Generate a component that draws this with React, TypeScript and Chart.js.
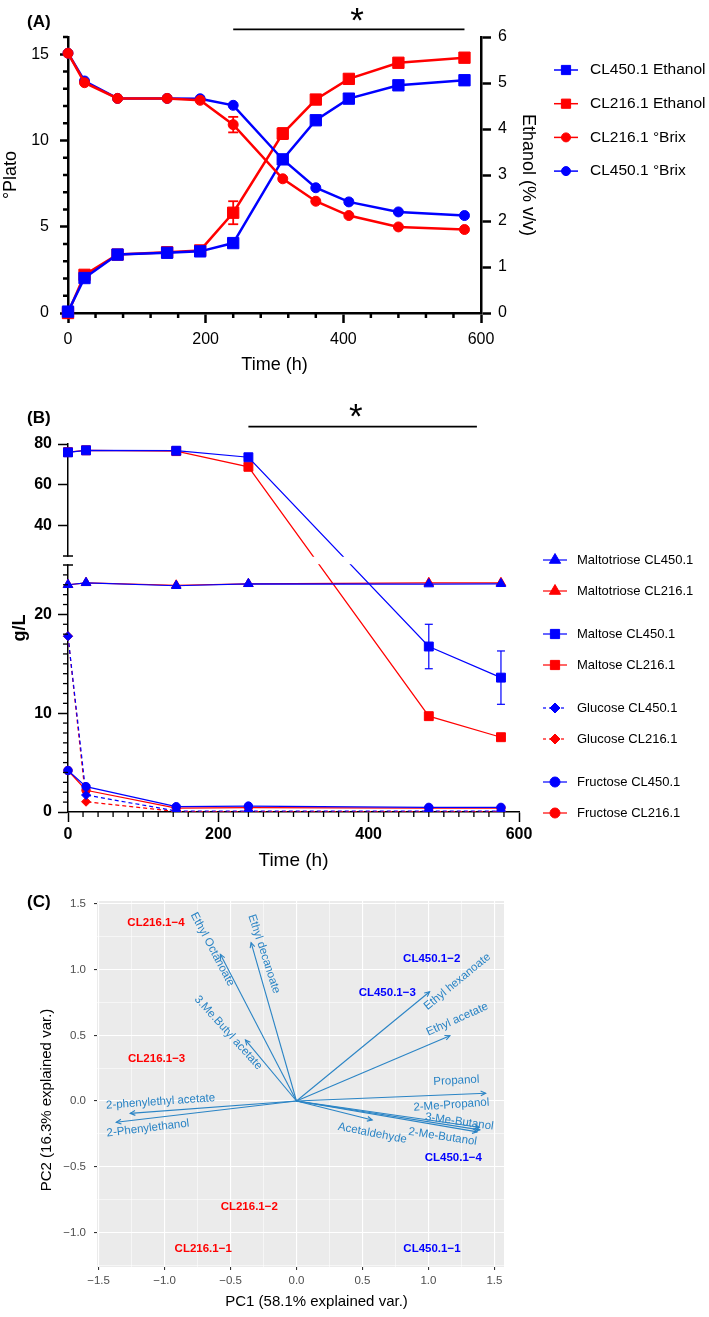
import React, { useEffect, useRef } from "react";
import { Chart, registerables, LinearScale } from "chart.js";

Chart.register(...registerables);

const FONT = "'Liberation Sans', Arial, Helvetica, sans-serif";
Chart.defaults.font.family = FONT;
Chart.defaults.color = "#000";

const BLUE = "#0000ff";
const RED = "#ff0000";
const ARROW = "#2a84c5";

/* ---------------- Panel A data ---------------- */
const timeA = [0, 24, 72, 144, 192, 240, 312, 360, 408, 480, 576];
const ethanolCL450 = [0.03, 0.76, 1.27, 1.31, 1.34, 1.52, 3.34, 4.19, 4.66, 4.95, 5.06];
const ethanolCL216 = [0.0, 0.83, 1.27, 1.32, 1.36, 2.18, 3.9, 4.64, 5.09, 5.44, 5.55];
const brixCL216 = [15.06, 13.35, 12.44, 12.44, 12.33, 10.92, 7.78, 6.48, 5.65, 4.99, 4.84];
const brixCL450 = [15.06, 13.45, 12.44, 12.44, 12.42, 12.04, 8.9, 7.26, 6.44, 5.86, 5.65];
const errEthanolCL450 = [0, 0, 0, 0, 0, 0, 0, 0, 0, 0, 0.1];
const errEthanolCL216 = [0, 0, 0, 0, 0, 0.25, 0.12, 0, 0, 0, 0];
const errBrixCL216 = [0, 0, 0, 0, 0, 0.45, 0, 0, 0, 0, 0];
const errBrixCL450 = [0, 0, 0, 0, 0, 0, 0, 0, 0, 0, 0];
const timeTicksA = [0, 200, 400, 600];
const platoTicksA = [0, 5, 10, 15];
const ethanolTicksA = [0, 1, 2, 3, 4, 5, 6];
const sigSpanA = [240, 576];
const sigStarA = 420;

/* ---------------- Panel B data ---------------- */
const timeB = [0, 24, 144, 240, 480, 576];
const maltotrioseCL450 = [23.0, 23.2, 22.9, 23.1, 23.07, 23.1];
const maltotrioseCL216 = [23.0, 23.2, 22.95, 23.1, 23.2, 23.2];
const maltoseCL450 = [75.9, 76.9, 76.7, 73.5, 16.75, 13.6];
const maltoseCL216 = [76.0, 76.9, 76.5, 68.8, 9.7, 7.57];
const glucoseCL450 = [17.8, 1.72, 0.1, 0.1, 0.1, 0.1];
const glucoseCL216 = [17.8, 1.04, 0.05, 0.05, 0.05, 0.05];
const fructoseCL450 = [4.2, 2.57, 0.54, 0.6, 0.47, 0.47];
const fructoseCL216 = [4.2, 2.2, 0.4, 0.45, 0.4, 0.4];
const errMaltoseCL450 = [0, 0, 0, 0, 2.25, 2.7];
const errMaltoseCL216 = [0, 0, 0, 1.5, 0, 0];
const timeTicksB = [0, 200, 400, 600];
const gLTicksB = [0, 10, 20, 40, 60, 80];
const B_BREAK = 25;
const sigSpanB = [240, 544];
const sigStarB = 383;

/* ---------------- Panel C data ---------------- */
const loadingNames = [
  "Ethyl Octanoate", "Ethyl decanoate", "3.Me.Butyl acetate", "2-phenylethyl acetate",
  "2-Phenylethanol", "Ethyl hexanoate", "Ethyl acetate", "Propanol",
  "2-Me-Propanol", "3-Me-Butanol", "2-Me-Butanol", "Acetaldehyde",
];
const loadingPC1 = [-0.577, -0.344, -0.387, -1.26, -1.366, 1.009, 1.163, 1.434, 1.385, 1.39, 1.37, 0.574];
const loadingPC2 = [1.117, 1.206, 0.465, -0.094, -0.162, 0.832, 0.497, 0.059, -0.2, -0.22, -0.235, -0.145];
const labelPC1 = [-0.637, -0.246, -0.517, -1.03, -1.126, 1.219, 1.219, 1.212, 1.174, 1.234, 1.108, 0.575];
const labelPC2 = [1.155, 1.12, 0.52, -0.005, -0.208, 0.909, 0.622, 0.155, -0.03, -0.158, -0.272, -0.246];
const labelAngle = [62, 72, 48, -4, -7, -39.5, -24, -3, -4, 8, 8.5, 11];
const sampleNames = ["CL216.1−1", "CL216.1−2", "CL216.1−3", "CL216.1−4", "CL450.1−1", "CL450.1−2", "CL450.1−3", "CL450.1−4"];
const samplePC1 = [-0.707, -0.358, -1.06, -1.065, 1.027, 1.025, 0.688, 1.189];
const samplePC2 = [-1.125, -0.805, 0.322, 1.353, -1.127, 1.079, 0.825, -0.432];
const pcTicksX = [-1.5, -1.25, -1, -0.75, -0.5, -0.25, 0, 0.25, 0.5, 0.75, 1, 1.25, 1.5];
const pcTicksY = [-1.25, -1, -0.75, -0.5, -0.25, 0, 0.25, 0.5, 0.75, 1, 1.25, 1.5];

/* ---------------- broken axis scale ---------------- */
const B_GAP = 9;
const B_LOWER_SHARE = 0.688;

class BrokenLinearScale extends (LinearScale as any) {
  static id = "brokenLinear";
  static defaults = {};
  _seg() {
    const H = (this as any).bottom - (this as any).top;
    const low = (H - B_GAP) * B_LOWER_SHARE;
    const up = H - B_GAP - low;
    return { low, up };
  }
  getPixelForValue(value: any) {
    const s: any = this;
    if (value === null || value === undefined || isNaN(value)) return NaN;
    const { low, up } = this._seg();
    if (value <= B_BREAK) return s.bottom - ((value - s.min) / (B_BREAK - s.min)) * low;
    return s.top + up - ((value - B_BREAK) / (s.max - B_BREAK)) * up;
  }
  getValueForPixel(pixel: number) {
    const s: any = this;
    const { low, up } = this._seg();
    if (pixel >= s.bottom - low) return s.min + ((s.bottom - pixel) / low) * (B_BREAK - s.min);
    return B_BREAK + ((s.top + up - pixel) / up) * (s.max - B_BREAK);
  }
}
Chart.register(BrokenLinearScale as any);

/* ---------------- helpers ---------------- */
function pts(xs: number[], ys: number[]) {
  return xs.map((x, i) => ({ x, y: ys[i] }));
}

function seg(ctx: any, x1: number, y1: number, x2: number, y2: number) {
  ctx.beginPath();
  ctx.moveTo(x1, y1);
  ctx.lineTo(x2, y2);
  ctx.stroke();
}

function drawMarker(ctx: any, style: string, x: number, y: number, r: number, color: string) {
  ctx.save();
  ctx.fillStyle = color;
  ctx.strokeStyle = color;
  ctx.lineWidth = 1;
  ctx.setLineDash([]);
  ctx.beginPath();
  if (style === "circle") {
    ctx.arc(x, y, r, 0, Math.PI * 2);
  } else if (style === "rect") {
    const s = r * Math.SQRT1_2;
    ctx.rect(x - s, y - s, 2 * s, 2 * s);
  } else if (style === "triangle") {
    let a = 0;
    ctx.moveTo(x + Math.sin(a) * r, y - Math.cos(a) * r);
    a += (2 * Math.PI) / 3;
    ctx.lineTo(x + Math.sin(a) * r, y - Math.cos(a) * r);
    a += (2 * Math.PI) / 3;
    ctx.lineTo(x + Math.sin(a) * r, y - Math.cos(a) * r);
    ctx.closePath();
  } else if (style === "rectRot") {
    ctx.moveTo(x - r, y);
    ctx.lineTo(x, y - r);
    ctx.lineTo(x + r, y);
    ctx.lineTo(x, y + r);
    ctx.closePath();
  }
  ctx.fill();
  ctx.stroke();
  ctx.restore();
}

function ticksBottom(ctx: any, scale: any, values: number[], len: number, width: number) {
  ctx.save();
  ctx.strokeStyle = "#000";
  ctx.lineWidth = width;
  for (const v of values) {
    const p = scale.getPixelForValue(v);
    seg(ctx, p, scale.top, p, scale.top + len);
  }
  ctx.restore();
}

function ticksLeft(ctx: any, scale: any, values: number[], len: number, width: number) {
  ctx.save();
  ctx.strokeStyle = "#000";
  ctx.lineWidth = width;
  for (const v of values) {
    const p = scale.getPixelForValue(v);
    seg(ctx, scale.right, p, scale.right - len, p);
  }
  ctx.restore();
}

function drawErrorBars(chart: any, capHalf: number, width: number) {
  const ctx = chart.ctx;
  ctx.save();
  ctx.lineWidth = width;
  chart.data.datasets.forEach((ds: any, di: number) => {
    if (!ds.errors) return;
    const meta = chart.getDatasetMeta(di);
    const ys = chart.scales[meta.yAxisID];
    ctx.strokeStyle = ds.borderColor;
    ctx.setLineDash([]);
    ds.errors.forEach((e: number, j: number) => {
      if (!e) return;
      const v = ds.data[j].y;
      const px = meta.data[j].x;
      const a = ys.getPixelForValue(v + e);
      const b = ys.getPixelForValue(v - e);
      seg(ctx, px, a, px, b);
      seg(ctx, px - capHalf, a, px + capHalf, a);
      seg(ctx, px - capHalf, b, px + capHalf, b);
    });
  });
  ctx.restore();
}

function drawLegend(chart: any, order: number[], x0: number, yFor: (i: number) => number, lineLen: number, textGap: number, fontSize: number) {
  const ctx = chart.ctx;
  ctx.save();
  order.forEach((di, i) => {
    const ds = chart.data.datasets[di];
    const y = yFor(i);
    ctx.strokeStyle = ds.borderColor;
    ctx.lineWidth = ds.legendLineWidth;
    ctx.setLineDash(ds.borderDash && ds.borderDash.length ? [3, 3] : []);
    seg(ctx, x0, y, x0 + lineLen, y);
    ctx.setLineDash([]);
    drawMarker(ctx, ds.pointStyle, x0 + lineLen / 2, y, ds.legendRadius, ds.borderColor);
    ctx.fillStyle = "#000";
    ctx.font = `${fontSize}px ${FONT}`;
    ctx.textAlign = "left";
    ctx.textBaseline = "middle";
    ctx.fillText(ds.label, x0 + lineLen + textGap, y);
  });
  ctx.restore();
}

function drawSignificance(ctx: any, sx: any, span: number[], star: number, lineY: number, starY: number, lw: number, starSize: number) {
  ctx.save();
  ctx.strokeStyle = "#000";
  ctx.lineWidth = lw;
  seg(ctx, sx.getPixelForValue(span[0]), lineY, sx.getPixelForValue(span[1]), lineY);
  ctx.fillStyle = "#000";
  ctx.font = `${starSize}px ${FONT}`;
  ctx.textAlign = "center";
  ctx.textBaseline = "alphabetic";
  const m = ctx.measureText("*");
  const base = starY + (m.actualBoundingBoxAscent - m.actualBoundingBoxDescent) / 2;
  ctx.fillText("*", sx.getPixelForValue(star), base);
  ctx.restore();
}

function drawTag(ctx: any, text: string, x: number, y: number) {
  ctx.save();
  ctx.fillStyle = "#000";
  ctx.font = `bold 17px ${FONT}`;
  ctx.textAlign = "left";
  ctx.textBaseline = "middle";
  ctx.fillText(text, x, y);
  ctx.restore();
}

/* ---------------- Panel A ---------------- */
function buildA(): any {
  const mk = (label: string, ys: number[], color: string, style: string, radius: number, yAxisID: string, errs: number[], legendRadius: number) => ({
    label,
    data: pts(timeA, ys),
    yAxisID,
    borderColor: color,
    backgroundColor: color,
    borderWidth: 2.5,
    pointStyle: style,
    pointRadius: radius,
    pointBorderWidth: 1,
    pointBackgroundColor: color,
    pointBorderColor: color,
    tension: 0,
    clip: false,
    errors: errs,
    legendRadius,
    legendLineWidth: 1.5,
  });
  const datasets = [
    mk("CL216.1 °Brix", brixCL216, RED, "circle", 5, "y", errBrixCL216, 4.5),
    mk("CL450.1 Ethanol", ethanolCL450, BLUE, "rect", 8, "y2", errEthanolCL450, 6.5),
    mk("CL450.1 °Brix", brixCL450, BLUE, "circle", 5, "y", errBrixCL450, 4.5),
    mk("CL216.1 Ethanol", ethanolCL216, RED, "rect", 8, "y2", errEthanolCL216, 6.5),
  ];
  const legendOrder = [1, 3, 0, 2];
  const tickFont = { family: FONT, size: 16 };
  const titleFont = { family: FONT, size: 18 };
  const plugin = {
    id: "panelA",
    afterDatasetsDraw(chart: any) {
      drawErrorBars(chart, 5, 1.8);
    },
    afterDraw(chart: any) {
      const ctx = chart.ctx;
      const ca = chart.chartArea;
      const minorX: number[] = [];
      for (let t = 40; t < 600; t += 40) if (t % 200) minorX.push(t);
      const minorY: number[] = [];
      for (let v = 1; v <= 16; v++) if (v % 5) minorY.push(v);
      ticksBottom(ctx, chart.scales.x, minorX, 5, 2.5);
      ticksLeft(ctx, chart.scales.y, minorY, 5, 2.5);
      drawSignificance(ctx, chart.scales.x, sigSpanA, sigStarA, ca.top - 7.7, ca.top - 23, 1.8, 35);
      drawTag(ctx, "(A)", 27, 22);
      drawLegend(chart, legendOrder, ca.right + 73, (i) => ca.top + 33 + i * 33.7, 24, 12, 15.5);
    },
  };
  return {
    type: "line",
    data: { datasets },
    plugins: [plugin],
    options: {
      animation: false,
      responsive: false,
      events: [],
      layout: { padding: { top: 37, left: 0, right: 170, bottom: 4 } },
      plugins: { legend: { display: false }, tooltip: { enabled: false } },
      scales: {
        x: {
          type: "linear",
          min: 0,
          max: 600,
          afterBuildTicks: (s: any) => { s.ticks = timeTicksA.map((value) => ({ value })); },
          afterFit: (s: any) => { s.height = 63; },
          ticks: { autoSkip: false, maxRotation: 0, padding: 7, font: tickFont, color: "#000" },
          grid: { drawOnChartArea: false, drawTicks: true, tickLength: 10, tickWidth: 2.5, tickColor: "#000" },
          border: { display: true, color: "#000", width: 2.5 },
          title: { display: true, text: "Time (h)", font: titleFont, color: "#000", padding: 0 },
        },
        y: {
          position: "left",
          min: 0,
          max: 16,
          afterBuildTicks: (s: any) => { s.ticks = platoTicksA.map((value) => ({ value })); },
          afterFit: (s: any) => { s.width = 68; },
          ticks: { autoSkip: false, padding: 11, font: tickFont, color: "#000" },
          grid: { drawOnChartArea: false, drawTicks: true, tickLength: 8, tickWidth: 2.5, tickColor: "#000" },
          border: { display: true, color: "#000", width: 2.5 },
          title: { display: true, text: "°Plato", font: titleFont, color: "#000", padding: 0 },
        },
        y2: {
          position: "right",
          min: 0,
          max: 6,
          afterBuildTicks: (s: any) => { s.ticks = ethanolTicksA.map((value) => ({ value })); },
          afterFit: (s: any) => { s.width = 58; },
          ticks: { autoSkip: false, padding: 7, font: tickFont, color: "#000" },
          grid: { drawOnChartArea: false, drawTicks: true, tickLength: 10, tickWidth: 2.5, tickColor: "#000" },
          border: { display: true, color: "#000", width: 2.5 },
          title: { display: true, text: "Ethanol (% v/v)", font: titleFont, color: "#000", padding: 0 },
        },
      },
    },
  };
}

/* ---------------- Panel B ---------------- */
function buildB(): any {
  const mk = (label: string, ys: number[], color: string, style: string, radius: number, errs: number[] | null, dashed: boolean, legendRadius: number) => ({
    label,
    data: pts(timeB, ys),
    yAxisID: "y",
    borderColor: color,
    backgroundColor: color,
    borderWidth: 1.2,
    borderDash: dashed ? [4, 3] : [],
    pointStyle: style,
    pointRadius: radius,
    pointBorderWidth: 1,
    pointBackgroundColor: color,
    pointBorderColor: color,
    tension: 0,
    clip: { left: 15, top: 15, right: 15, bottom: 0 },
    errors: errs,
    legendRadius,
    legendLineWidth: 1.2,
  });
  const datasets = [
    mk("Fructose CL450.1", fructoseCL450, BLUE, "circle", 4.2, null, false, 5),
    mk("Glucose CL450.1", glucoseCL450, BLUE, "rectRot", 4.5, null, true, 5),
    mk("Maltotriose CL450.1", maltotrioseCL450, BLUE, "triangle", 5.5, null, false, 6.5),
    mk("Maltose CL450.1", maltoseCL450, BLUE, "rect", 6.3, errMaltoseCL450, false, 6.5),
    mk("Fructose CL216.1", fructoseCL216, RED, "circle", 4.2, null, false, 5),
    mk("Glucose CL216.1", glucoseCL216, RED, "rectRot", 4.5, null, true, 5),
    mk("Maltotriose CL216.1", maltotrioseCL216, RED, "triangle", 5.5, null, false, 6.5),
    mk("Maltose CL216.1", maltoseCL216, RED, "rect", 6.3, errMaltoseCL216, false, 6.5),
  ];
  const legendOrder = [2, 6, 3, 7, 1, 5, 0, 4];
  const tickFont = { family: FONT, size: 16, weight: "bold" };
  const plugin = {
    id: "panelB",
    afterDatasetsDraw(chart: any) {
      const ctx = chart.ctx;
      const ca = chart.chartArea;
      drawErrorBars(chart, 4, 1.2);
      const sy = chart.scales.y;
      const low = sy.getPixelForValue(B_BREAK);
      const up = sy.getPixelForValue(B_BREAK + 1e-6);
      ctx.save();
      ctx.fillStyle = "#fff";
      ctx.fillRect(ca.left - 4, up + 0.8, ca.right - ca.left + 4, low - up - 1.6);
      ctx.strokeStyle = "#000";
      ctx.lineWidth = 1.5;
      seg(ctx, ca.left - 5, up, ca.left + 5, up);
      seg(ctx, ca.left - 5, low, ca.left + 5, low);
      ctx.restore();
    },
    afterDraw(chart: any) {
      const ctx = chart.ctx;
      const ca = chart.chartArea;
      const minorX: number[] = [];
      for (let t = 20; t < 600; t += 20) if (t % 200) minorX.push(t);
      const minorY: number[] = [];
      for (let v = 1; v < B_BREAK; v++) if (v % 10) minorY.push(v);
      ticksBottom(ctx, chart.scales.x, minorX, 5, 1.3);
      ticksLeft(ctx, chart.scales.y, minorY, 5, 1.3);
      drawSignificance(ctx, chart.scales.x, sigSpanB, sigStarB, ca.top - 17.3, ca.top - 34, 1.8, 35);
      drawTag(ctx, "(B)", 27, 38);
      drawLegend(chart, legendOrder, ca.right + 24, (i) => ca.top + 116 + i * 31 + Math.floor(i / 2) * 12, 24, 10, 13);
    },
  };
  return {
    type: "line",
    data: { datasets },
    plugins: [plugin],
    options: {
      animation: false,
      responsive: false,
      events: [],
      layout: { padding: { top: 64, left: 0, right: 190, bottom: 8 } },
      plugins: { legend: { display: false }, tooltip: { enabled: false } },
      scales: {
        x: {
          type: "linear",
          min: 0,
          max: 600,
          afterBuildTicks: (s: any) => { s.ticks = timeTicksB.map((value) => ({ value })); },
          afterFit: (s: any) => { s.height = 60; },
          ticks: { autoSkip: false, maxRotation: 0, padding: 3, font: tickFont, color: "#000" },
          grid: { drawOnChartArea: false, drawTicks: true, tickLength: 10, tickWidth: 1.5, tickColor: "#000" },
          border: { display: true, color: "#000", width: 1.5 },
          title: { display: true, text: "Time (h)", font: { family: FONT, size: 19 }, color: "#000", padding: 0 },
        },
        y: {
          type: "brokenLinear",
          position: "left",
          min: 0,
          max: 80,
          afterBuildTicks: (s: any) => { s.ticks = gLTicksB.map((value) => ({ value })); },
          afterFit: (s: any) => { s.width = 68; },
          ticks: { autoSkip: false, padding: 6, font: tickFont, color: "#000" },
          grid: { drawOnChartArea: false, drawTicks: true, tickLength: 10, tickWidth: 1.5, tickColor: "#000" },
          border: { display: true, color: "#000", width: 1.5 },
          title: { display: true, text: "g/L", font: { family: FONT, size: 18, weight: "bold" }, color: "#000", padding: { top: 9, bottom: 0 } },
        },
      },
    },
  };
}

/* ---------------- Panel C ---------------- */
function isHalf(v: number) {
  return Math.abs(v * 2 - Math.round(v * 2)) < 1e-6;
}
function fmtPC(v: number) {
  return (v < 0 ? "−" : "") + Math.abs(v).toFixed(1);
}

function buildC(): any {
  const datasets: any[] = loadingNames.map((name, i) => ({
    label: name,
    data: [{ x: 0, y: 0 }, { x: loadingPC1[i], y: loadingPC2[i] }],
    showLine: true,
    borderColor: ARROW,
    borderWidth: 1.1,
    pointRadius: 0,
    clip: false,
  }));
  datasets.push({
    label: "samples",
    data: pts(samplePC1, samplePC2),
    showLine: false,
    pointRadius: 0,
  });
  const sampleIndex = datasets.length - 1;
  const tickFont = { family: FONT, size: 11.5 };
  const plugin = {
    id: "panelC",
    beforeDraw(chart: any) {
      const ctx = chart.ctx;
      const ca = chart.chartArea;
      ctx.save();
      ctx.fillStyle = "#EBEBEB";
      ctx.fillRect(ca.left, ca.top, ca.right - ca.left, ca.bottom - ca.top);
      ctx.restore();
    },
    afterDatasetsDraw(chart: any) {
      const ctx = chart.ctx;
      const ca = chart.chartArea;
      const sx = chart.scales.x;
      const sy = chart.scales.y;
      ctx.save();
      ctx.strokeStyle = ARROW;
      ctx.lineWidth = 1.1;
      loadingNames.forEach((_, i) => {
        const m = chart.getDatasetMeta(i);
        const p0 = m.data[0];
        const p1 = m.data[1];
        const ang = Math.atan2(p1.y - p0.y, p1.x - p0.x);
        const L = 5.5;
        const a = 0.45;
        ctx.beginPath();
        ctx.moveTo(p1.x - L * Math.cos(ang - a), p1.y - L * Math.sin(ang - a));
        ctx.lineTo(p1.x, p1.y);
        ctx.lineTo(p1.x - L * Math.cos(ang + a), p1.y - L * Math.sin(ang + a));
        ctx.stroke();
      });
      ctx.fillStyle = ARROW;
      ctx.font = `11.5px ${FONT}`;
      ctx.textAlign = "center";
      ctx.textBaseline = "middle";
      loadingNames.forEach((name, i) => {
        const px = sx.getPixelForValue(labelPC1[i]);
        const py = sy.getPixelForValue(labelPC2[i]);
        ctx.save();
        ctx.translate(px, py);
        ctx.rotate((labelAngle[i] * Math.PI) / 180);
        ctx.fillText(name, 0, 0);
        ctx.restore();
      });
      const sm = chart.getDatasetMeta(sampleIndex);
      ctx.font = `bold 11.5px ${FONT}`;
      sampleNames.forEach((name, j) => {
        ctx.fillStyle = name.startsWith("CL216") ? RED : BLUE;
        ctx.fillText(name, sm.data[j].x, sm.data[j].y);
      });
      ctx.fillStyle = "#000";
      ctx.font = `15px ${FONT}`;
      ctx.fillText("PC1 (58.1% explained var.)", (ca.left + ca.right) / 2 + 16, ca.bottom + 35);
      ctx.save();
      ctx.translate(47, (ca.top + ca.bottom) / 2 + 16);
      ctx.rotate(-Math.PI / 2);
      ctx.fillText("PC2 (16.3% explained var.)", 0, 0);
      ctx.restore();
      ctx.restore();
      drawTag(ctx, "(C)", 27, 22);
    },
  };
  const gridCfg = {
    color: "#ffffff",
    lineWidth: (c: any) => (c.tick && isHalf(c.tick.value) ? 1.1 : 0.55),
    drawTicks: true,
    tickLength: 3,
    tickWidth: 1.1,
    tickColor: (c: any) => (c.tick && isHalf(c.tick.value) ? "#333333" : "rgba(0,0,0,0)"),
  };
  return {
    type: "scatter",
    data: { datasets },
    plugins: [plugin],
    options: {
      animation: false,
      responsive: false,
      events: [],
      layout: { padding: { top: 21, left: 0, right: 205, bottom: 6 } },
      plugins: { legend: { display: false }, tooltip: { enabled: false } },
      scales: {
        x: {
          type: "linear",
          min: -1.512,
          max: 1.573,
          afterBuildTicks: (s: any) => { s.ticks = pcTicksX.map((value) => ({ value })); },
          afterFit: (s: any) => { s.height = 44; },
          ticks: { autoSkip: false, maxRotation: 0, padding: 4, font: tickFont, color: "#4D4D4D", callback: (v: any) => (isHalf(v) ? fmtPC(v) : "") },
          grid: gridCfg,
          border: { display: false },
        },
        y: {
          type: "linear",
          min: -1.264,
          max: 1.523,
          afterBuildTicks: (s: any) => { s.ticks = pcTicksY.map((value) => ({ value })); },
          afterFit: (s: any) => { s.width = 97; },
          ticks: { autoSkip: false, padding: 8, font: tickFont, color: "#4D4D4D", callback: (v: any) => (isHalf(v) ? fmtPC(v) : "") },
          grid: gridCfg,
          border: { display: false },
        },
      },
    },
  };
}

/* ---------------- React ---------------- */
function ChartCanvas({ top, width, height, build }: { top: number; width: number; height: number; build: () => any }) {
  const ref = useRef<HTMLCanvasElement | null>(null);
  useEffect(() => {
    if (!ref.current) return;
    const chart = new Chart(ref.current, build());
    return () => chart.destroy();
  }, []);
  return (
    <canvas
      ref={ref}
      width={width}
      height={height}
      style={{ position: "absolute", left: 0, top, width, height, display: "block" }}
    />
  );
}

export default function App() {
  return (
    <div style={{ position: "absolute", left: 0, top: 0, width: 709, height: 1317, background: "#fff" }}>
      <ChartCanvas top={0} width={709} height={380} build={buildA} />
      <ChartCanvas top={380} width={709} height={500} build={buildB} />
      <ChartCanvas top={880} width={709} height={437} build={buildC} />
    </div>
  );
}
